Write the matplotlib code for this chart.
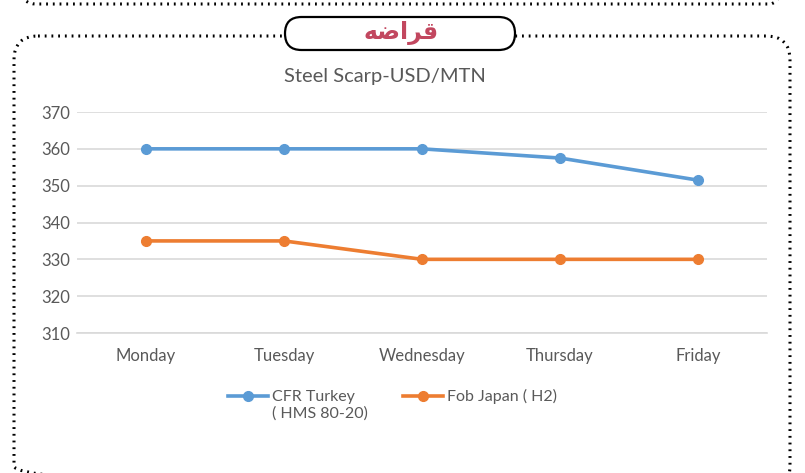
import matplotlib.pyplot as plt
from matplotlib.patches import FancyBboxPatch
from matplotlib.legend_handler import HandlerLine2D

# Chart data
days = ["Monday", "Tuesday", "Wednesday", "Thursday", "Friday"]
cfr_turkey = [360, 360, 360, 357.5, 351.5]
fob_japan = [335, 335, 330, 330, 330]
y_ticks = [310, 320, 330, 340, 350, 360, 370]

TITLE = "Steel Scarp-USD/MTN"
# "قراضه" written with Arabic presentation forms in visual order (no shaping in matplotlib)
HEADER = "\ufeea\ufebf\ufe8d\ufeae\ufed7"

BLUE = "#5b9bd5"
ORANGE = "#ed7d31"
GRAY = "#595959"


class TopLineHandler(HandlerLine2D):
    """Puts the legend line level with the first line of a two-line label."""
    def __init__(self, shift, **kw):
        super().__init__(**kw)
        self.shift = shift

    def create_artists(self, legend, orig_handle, xdescent, ydescent, width, height, fontsize, trans):
        return super().create_artists(legend, orig_handle, xdescent, ydescent - 2 * self.shift,
                                      width, height, fontsize, trans)


plt.rcParams['font.family'] = ['Lato', 'DejaVu Sans']

fig = plt.figure(figsize=(8.05, 4.73), dpi=100)

# background layer in pixel coordinates for the decorative frame
bg = fig.add_axes([0, 0, 1, 1])
bg.set_xlim(0, 805)
bg.set_ylim(473, 0)
bg.axis("off")

dots = dict(fill=False, edgecolor="black", linewidth=2.2, linestyle=(0, (0.6, 1.6)))
# bottom of the previous box
bg.add_patch(FancyBboxPatch((22, -60), 762, 64, boxstyle="round,pad=0,rounding_size=14", **dots))
# current box
bg.add_patch(FancyBboxPatch((14, 36), 776, 454, boxstyle="round,pad=0,rounding_size=24", **dots))
# header pill
bg.add_patch(FancyBboxPatch((285, 17), 230, 33, boxstyle="round,pad=0,rounding_size=16.5",
                            facecolor="white", edgecolor="black", linewidth=1.6, zorder=3))
bg.text(401, 33, HEADER, ha="center", va="center", fontsize=17, fontweight="bold",
        color="#c2475f", family=["DejaVu Sans"], zorder=4)

# chart
ax = fig.add_axes([77 / 805, 1 - 333 / 473, 690 / 805, 221 / 473])
x = range(len(days))
l1, = ax.plot(x, cfr_turkey, color=BLUE, linewidth=2.6, marker="o", markersize=7,
              label="CFR Turkey\n( HMS 80-20)")
l2, = ax.plot(x, fob_japan, color=ORANGE, linewidth=2.6, marker="o", markersize=7,
              label="Fob Japan ( H2)\n")

ax.set_xlim(-0.5, len(days) - 0.5)
ax.set_ylim(310, 370)
ax.set_yticks(y_ticks)
ax.set_xticks(list(x))
ax.set_xticklabels(days)
ax.grid(axis="y", color="#d9d9d9", linewidth=1.2)
ax.set_axisbelow(True)
for s in ["top", "right", "left"]:
    ax.spines[s].set_visible(False)
ax.spines["bottom"].set_color("#d9d9d9")
ax.spines["bottom"].set_linewidth(1.2)
ax.tick_params(length=0, colors=GRAY, labelsize=12)
ax.tick_params(axis="x", pad=11)
ax.tick_params(axis="y", pad=5)
ax.set_facecolor("none")

fig.text(385 / 805, 1 - 76 / 473, TITLE, ha="center", va="center", fontsize=14.5, color=GRAY)

fig.legend(handles=[l1, l2], loc="upper left", bbox_to_anchor=(214 / 805, 1 - 375 / 473), ncol=2,
           frameon=False, handlelength=2.5, columnspacing=2.2, fontsize=11.5, labelcolor=GRAY,
           handletextpad=0.25, handler_map={l1: TopLineHandler(6.5), l2: TopLineHandler(6.5)})

plt.savefig("out.png", dpi=100)
